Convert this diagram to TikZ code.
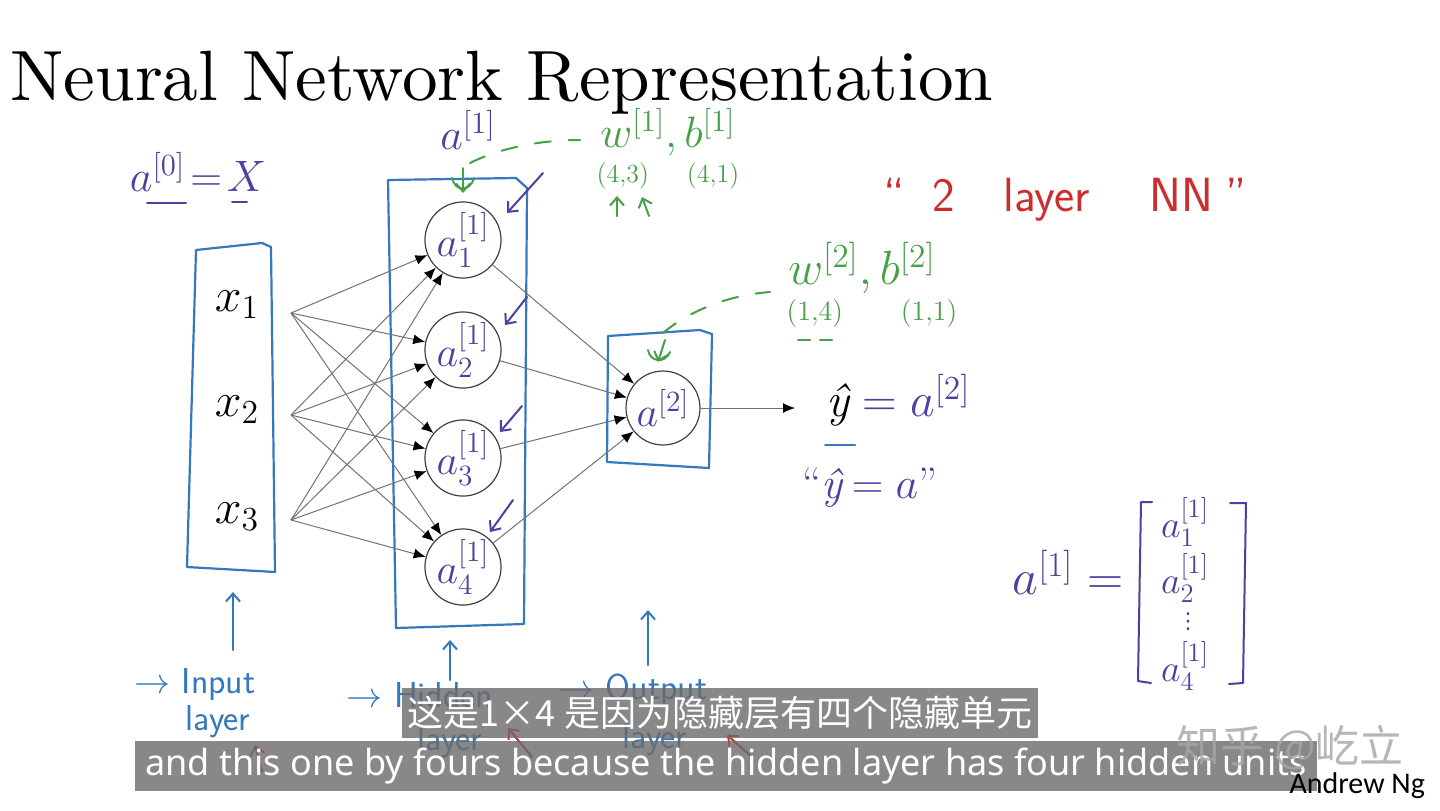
\RequirePackage{fix-cm}
\documentclass[tikz,border=0pt]{standalone}
\usepackage{amsmath}
\usepackage{fontspec}
\usetikzlibrary{arrows.meta}
\newfontfamily\titlefont{lmroman10-regular.otf}
\newfontfamily\cjkfont{Noto Sans CJK SC}
\newfontfamily\subfont{Noto Sans}
\newfontfamily\ngfont{Carlito}
\newfontfamily\symfont{DejaVu Sans}
\definecolor{boxblue}{RGB}{52,120,190}
\definecolor{penpurple}{RGB}{80,62,160}
\definecolor{pengreen}{RGB}{70,160,70}
\definecolor{penred}{RGB}{205,45,45}

\begin{document}
\begin{tikzpicture}[x=0.5pt, y=-0.5pt,
		neuron/.style={circle, draw=black!75, line width=0.6pt, minimum size=37pt, inner sep=0pt, text=penpurple, font=\fontsize{21}{24}\selectfont},
		conn/.style={draw=black!55, line width=0.5pt, -{Latex[length=6pt, width=5pt, color=black]}},
		boxline/.style={draw=boxblue, line width=1.1pt, line join=round},
		pen/.style={line width=1pt, line cap=round, line join=round},
		barb/.style={pen, -{Straight Barb[length=4pt, width=7pt]}},
		hw/.style={font=\fontsize{22}{26}\selectfont},
		entry/.style={text=penpurple, inner sep=0pt, font=\fontsize{19}{22}\selectfont},
		lbl/.style={text=boxblue, font=\sffamily\fontsize{18}{21}\selectfont},
		sub/.style={fill=black!58, fill opacity=0.8, text opacity=1, text=white, inner xsep=3pt, inner ysep=0pt, minimum height=25pt}]
			%Config
			\fill[white] (0,0) rectangle (1440,810);
			\useasboundingbox (0,0) rectangle (1440,810);
			\node[anchor=base west, inner xsep=0pt, font=\titlefont\fontsize{35.6}{40}\selectfont] (title) at (10,100) {Neural Network Representation};
			
			%Input layer
			\draw[boxline] (196,250) -- (262,243) -- (271,247) -- (275,572) -- (187,567) -- cycle;
			\node[font=\fontsize{24}{28}\selectfont] (x1) at (237,305) {$x_1$};
			\node[font=\fontsize{24}{28}\selectfont] (x2) at (237,410) {$x_2$};
			\node[font=\fontsize{24}{28}\selectfont] (x3) at (237,517) {$x_3$};
			\coordinate (s1) at (291,313);
			\coordinate (s2) at (291,415);
			\coordinate (s3) at (291,520);
			
			%Hidden layer
			\draw[boxline] (388,180) -- (516,178) -- (527,188) -- (524,624) -- (396,628) -- cycle;
			\node[neuron] (h1) at (463,240) {$a^{[1]}_1$};
			\node[neuron] (h2) at (463,350) {$a^{[1]}_2$};
			\node[neuron] (h3) at (463,458) {$a^{[1]}_3$};
			\node[neuron] (h4) at (463,567) {$a^{[1]}_4$};
			
			%Output layer
			\draw[boxline] (608,336) -- (700,330) -- (712,334) -- (709,468) -- (607,462) -- cycle;
			\node[neuron] (o) at (663,408) {$a^{[2]}$};
			\coordinate (yout) at (795,408);
			
			%Connexoes
			\foreach \i in {1,2,3}
				\foreach \j in {1,...,4}
					\draw[conn] (s\i) -- (h\j);
			\foreach \j in {1,...,4}
				\draw[conn] (h\j) -- (o);
			\draw[conn] (o) -- (yout);
			
			%Notas roxas
			\node[hw, text=penpurple] (a0) at (198,172) {$a^{[0]}\!=\!X$};
			\draw[pen, penpurple] (147,203) -- (186,203);
			\draw[pen, penpurple] (232,202) -- (247,202);
			\node[hw, text=penpurple] (atop) at (468,130) {$a^{[1]}$};
			\draw[barb, penpurple] (543,173) -- (507,213);
			\draw[barb, penpurple] (527,297) -- (505,325);
			\draw[barb, penpurple] (522,406) -- (500,432);
			\draw[barb, penpurple] (513,500) -- (490,532);
			\node[font=\fontsize{24}{28}\selectfont\itshape, inner xsep=1pt] (yhat) at (838,405) {ŷ};
			\node[font=\fontsize{24}{28}\selectfont, text=penpurple, anchor=base west, inner xsep=1pt] (ya2) at ([xshift=4pt]yhat.base east) {$=a^{[2]}$};
			\draw[pen, boxblue] (825,445) -- (855,445);
			\node[hw, text=penpurple] (yq) at (870,488) {``\textit{ŷ}$\,=a$''};
			
			%Vetor a[1]
			\node[text=penpurple, font=\fontsize{25}{28}\selectfont] (avec) at (1068,572) {$a^{[1]}=$};
			\node[entry] (e1) at (1185,522) {$a^{[1]}_1$};
			\node[entry] (e2) at (1185,578) {$a^{[1]}_2$};
			\node[entry, font=\symfont\fontsize{11}{13}\selectfont] (e3) at (1188,622) {⋮};
			\node[entry] (e4) at (1185,666) {$a^{[1]}_4$};
			\draw[pen, penpurple] (1152,502) -- (1141,502) -- (1138,681) -- (1151,683);
			\draw[pen, penpurple] (1230,503) -- (1246,503) -- (1243,683) -- (1229,684);
			
			%Notas verdes
			\node[hw, text=pengreen] (wb1) at (668,132) {$w^{[1]},b^{[1]}$};
			\node[text=pengreen, font=\fontsize{13}{15}\selectfont] (d1) at (668,176) {$(4{,}3)$\hspace{19pt}$(4{,}1)$};
			\draw[barb, pengreen] (617,216) -- (617,196);
			\draw[barb, pengreen] (649,216) -- (642,197);
			\draw[pen, pengreen, dash pattern=on 8pt off 9pt] (470,163) .. controls (500,148) and (540,140) .. (580,140);
			\draw[barb, pengreen] (463,168) -- (463,193);
			\draw[pen, pengreen] (452,178) .. controls (455,192) and (470,192) .. (474,178);
			\node[font=\fontsize{24}{28}\selectfont, text=pengreen] (wb2) at (862,268) {$w^{[2]},b^{[2]}$};
			\node[text=pengreen, font=\fontsize{14}{16}\selectfont] (d2) at (872,313) {$(1{,}4)$\hspace{29pt}$(1{,}1)$};
			\draw[pen, pengreen, dash pattern=on 6pt off 5pt] (798,340) -- (836,340);
			\draw[pen, pengreen, dash pattern=on 8pt off 9pt] (663,333) .. controls (690,310) and (730,295) .. (770,292);
			\draw[barb, pengreen] (665,340) -- (658,362);
			\draw[pen, pengreen] (648,350) .. controls (650,362) and (665,364) .. (670,352);
			
			%Nota vermelha
			\node[font=\sffamily\fontsize{24}{28}\selectfont, text=penred] (nn) at (1065,200) {``\hspace{14pt}2\hspace{24pt}layer\hspace{30pt}NN\hspace{6pt}''};
			
			%Camadas
			\draw[barb, boxblue] (233,650) -- (233,592);
			\draw[barb, boxblue] (450,680) -- (450,640);
			\draw[barb, boxblue] (648,665) -- (648,610);
			\node[lbl] (in1) at (195,685) {$\to$ Input};
			\node[lbl] (in2) at (218,722) {layer};
			\node[lbl] (hid1) at (420,695) {$\to$ Hidden};
			\node[lbl] (hid2) at (450,742) {layer};
			\node[lbl] (out1) at (633,690) {$\to$ Output};
			\node[lbl] (out2) at (655,740) {layer};
			\draw[barb, penred] (262,772) -- (255,745);
			\draw[barb, penred] (532,757) -- (508,728);
			\draw[barb, penred] (752,757) -- (727,735);
			
			%Legendas
			\node[sub, minimum width=315pt] (zh) at (720,713) {\cjkfont\fontsize{18}{20}\selectfont 这是1×4 是因为隐藏层有四个隐藏单元};
			\node[sub, minimum width=591pt] (en) at (726,766) {\subfont\fontsize{18}{20}\selectfont and this one by fours because the hidden layer has four hidden units};
			\node[text=black!35, text opacity=0.8, font=\cjkfont\fontsize{22}{24}\selectfont] (wm) at (1290,748) {知乎 @屹立};
			\node[anchor=east, font=\ngfont\fontsize{15}{18}\selectfont] (ng) at (1432,786) {Andrew Ng};
		\end{tikzpicture}
\end{document}
